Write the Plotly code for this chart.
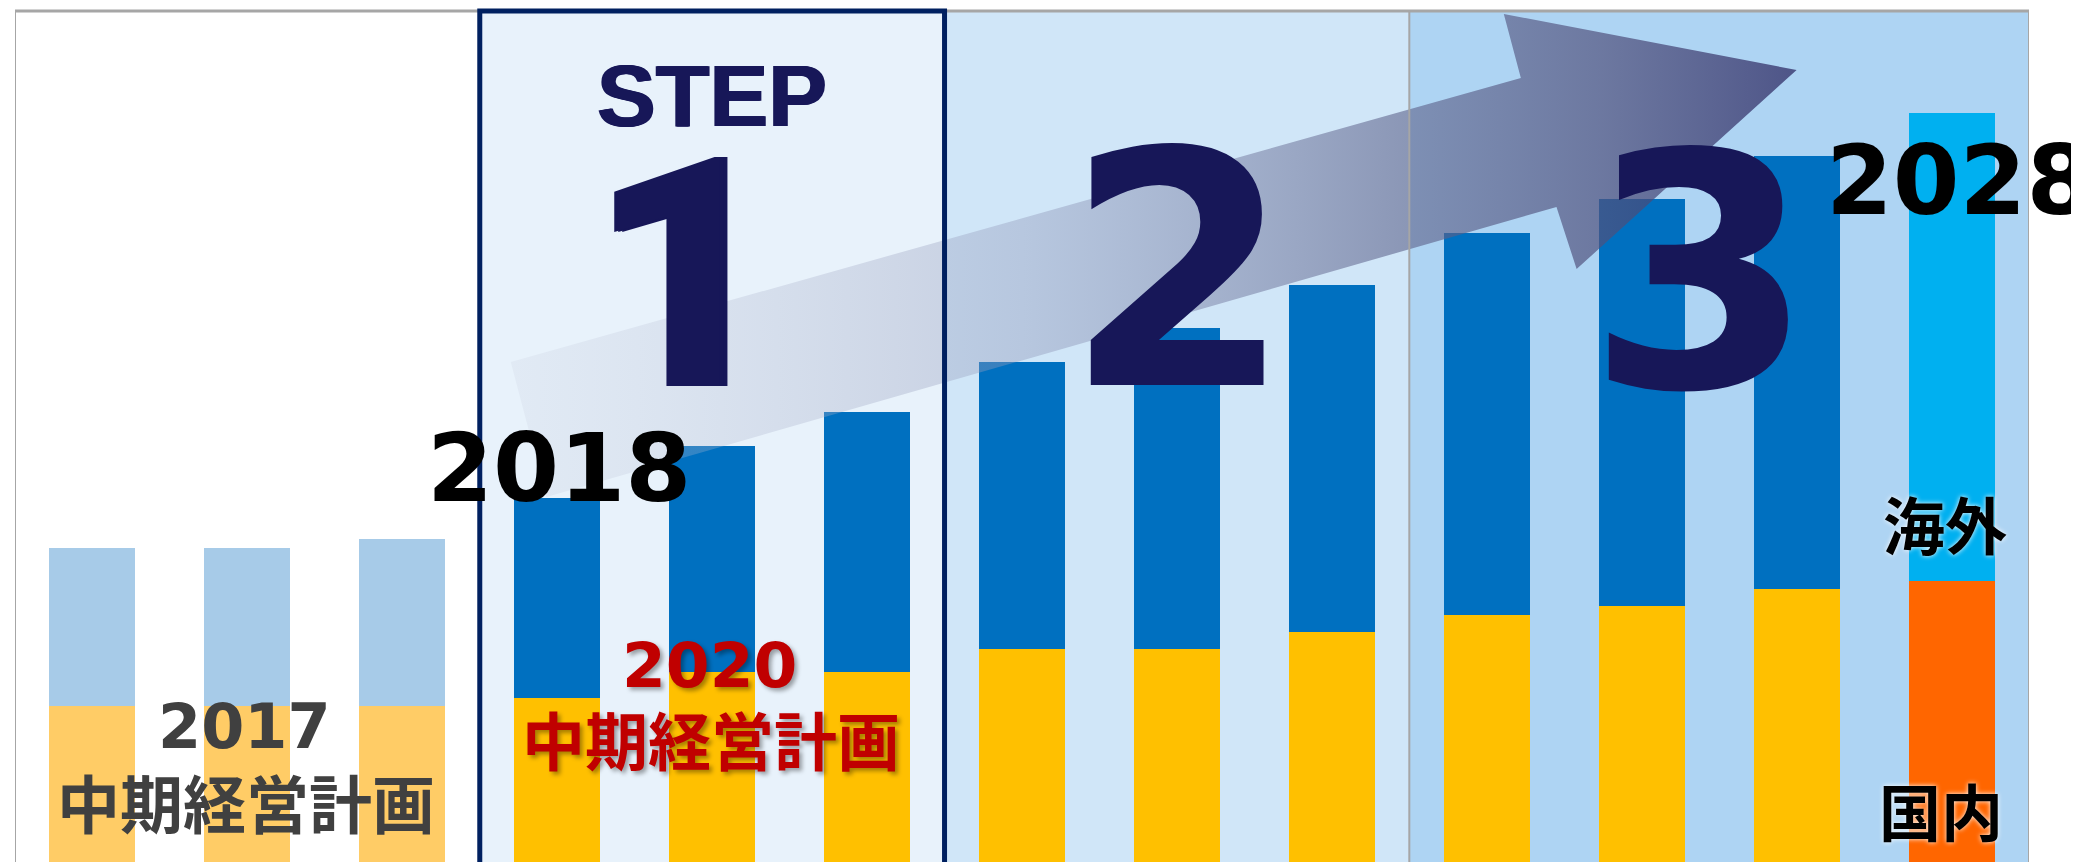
import plotly.graph_objects as go

# ---- data (arbitrary units) ----
periods = [f"P{i}" for i in range(13)]
x_pos = list(range(13))
domestic = [18.3, 18.3, 18.3, 19.3, 22.3, 22.3, 25.0, 25.0, 27.0, 29.0, 30.1, 32.1, 33.0]
overseas = [18.6, 18.6, 19.6, 23.5, 26.6, 30.6, 33.7, 37.7, 40.8, 44.9, 47.8, 50.9, 55.0]
domestic_colors = ["#FFCC66"] * 3 + ["#FFC000"] * 9 + ["#FF6600"]
overseas_colors = ["#A7CBE8"] * 3 + ["#0070C0"] * 9 + ["#00B0F0"]

# decorative arrow outline (axis units)
arrow_x = [2.70, 9.22, 9.11, 11.00, 9.58, 9.45, 2.93, 2.70]
arrow_y = [58.75, 92.13, 99.65, 93.07, 69.68, 76.97, 42.89, 58.75]

# background step regions
region_edges = [-0.5, 2.5, 5.5, 8.5, 12.5]
region_colors = ["#FFFFFF", "#E8F2FB", "#D0E6F8", "#AED4F3"]

# page body has an 8px margin; compensate so the plot lands where the reference has it
W, H = 2079, 854
L, R, T, B = 7, 58, 3, 0
PAGE_BOTTOM, PAGE_TOP = 862, 11


def py(ypix):
    return (PAGE_BOTTOM - ypix) / (PAGE_BOTTOM - PAGE_TOP)


fig = go.Figure()
fig.add_trace(go.Bar(x=x_pos, y=domestic, marker=dict(color=domestic_colors, line=dict(width=0)),
                     width=0.555, name="国内", hoverinfo="skip"))
fig.add_trace(go.Bar(x=x_pos, y=overseas, marker=dict(color=overseas_colors, line=dict(width=0)),
                     width=0.555, name="海外", hoverinfo="skip"))
fig.add_trace(go.Scatter(
    x=arrow_x, y=arrow_y, mode="lines", fill="toself", line=dict(width=0, color="rgba(0,0,0,0)"),
    fillgradient=dict(type="horizontal", colorscale=[
        [0.0, "rgba(200,206,222,0.22)"],
        [0.4, "rgba(145,152,185,0.40)"],
        [0.69, "rgba(95,100,140,0.6)"],
        [0.85, "rgba(80,80,124,0.7)"],
        [1.0, "rgba(54,53,109,0.8)"],
    ]),
    hoverinfo="skip", showlegend=False))

shapes = []
for i, c in enumerate(region_colors):
    shapes.append(dict(type="rect", xref="x", yref="paper", x0=region_edges[i], x1=region_edges[i + 1],
                       y0=0, y1=1, fillcolor=c, line=dict(width=0), layer="below"))
# plot frame
grey = "#A6A6A6"
shapes.append(dict(type="line", xref="x", yref="paper", x0=-0.5, x1=12.5, y0=1, y1=1, line=dict(color=grey, width=3), layer="above"))
shapes.append(dict(type="line", xref="x", yref="paper", x0=-0.5, x1=-0.5, y0=0, y1=1, line=dict(color=grey, width=2), layer="above"))
shapes.append(dict(type="line", xref="x", yref="paper", x0=12.5, x1=12.5, y0=0, y1=1, line=dict(color=grey, width=2), layer="above"))
shapes.append(dict(type="line", xref="x", yref="paper", x0=8.5, x1=8.5, y0=0, y1=1, line=dict(color=grey, width=2), layer="above"))
# STEP 1 box
shapes.append(dict(type="rect", xref="x", yref="paper", x0=2.5, x1=5.5, y0=-0.05, y1=1.0,
                   line=dict(color="#002060", width=5), fillcolor="rgba(0,0,0,0)", layer="above"))

navy = "#171758"
latin = "DejaVu Sans"
cjk = "Noto Sans CJK JP"


def ann(text, x, ypix, size, color, family, shadow=None, weight="bold"):
    f = dict(size=size, color=color, family=family, weight=weight)
    if shadow:
        f["shadow"] = shadow
    return dict(text=text, x=x, xref="x", y=py(ypix), yref="paper", showarrow=False,
                xanchor="center", yanchor="middle", font=f)


annotations = [
    ann("STEP", 4.0, 95, 88, navy, "Liberation Sans", "1px 0px 0px #171758, -1px 0px 0px #171758"),
    ann("1", 3.80, 276, 322, navy, "Roboto", "4px 0px 0px #171758, 8px 0px 0px #171758", weight=900),
    ann("2", 7.01, 272, 326, navy, latin),
    ann("3", 10.38, 274, 326, navy, latin),
    ann("2018", 3.01, 468, 95, "#000000", latin),
    ann("2028", 12.05, 181, 96, "#000000", latin),
    ann("2017", 0.98, 726, 62, "#404040", latin),
    ann("中期経営計画", 0.99, 800, 63, "#404040", cjk),
    ann("2020", 3.98, 665, 63, "#C00000", latin, "3px 3px 4px rgba(0,0,0,0.35)"),
    ann("中期経営計画", 3.99, 737, 63, "#C00000", cjk, "3px 3px 4px rgba(0,0,0,0.35)"),
    ann("海外", 11.96, 523, 62, "#000000", cjk, "0px 0px 5px white"),
    ann("国内", 11.93, 810, 62, "#000000", cjk, "0px 0px 5px white"),
]

fig.update_layout(
    width=W, height=H, barmode="stack", bargap=0,
    margin=dict(l=L, r=R, t=T, b=B, pad=0),
    paper_bgcolor="#FFFFFF", plot_bgcolor="#FFFFFF",
    showlegend=False, shapes=shapes, annotations=annotations,
    xaxis=dict(range=[-0.5, 12.5], visible=False, fixedrange=True),
    yaxis=dict(range=[0, 100], visible=False, fixedrange=True),
)

fig.write_html("out.html", config={"displayModeBar": False})
